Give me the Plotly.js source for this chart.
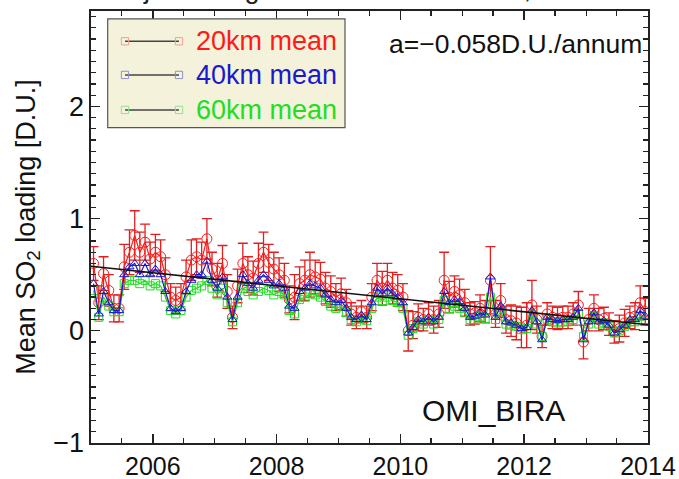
<!DOCTYPE html>
<html>
<head>
<meta charset="utf-8">
<script src="https://cdn.plot.ly/plotly-3.0.1.min.js"></script>
<style>html,body{margin:0;padding:0;background:#fff}#chart{width:679px;height:479px}</style>
</head>
<body>
<div id="chart"></div>
<script>
// ---- data (monthly means, Jan 2005 .. Dec 2013) ----
var startYear = 2005;
var nYears = 9;
var mean20 = [
  0.60,0.25,0.51,0.36,0.20,0.20,0.57,0.70,0.85,0.70,0.79,0.64,
  0.70,0.66,0.50,0.30,0.27,0.30,0.48,0.63,0.66,0.63,0.82,0.55,
  0.45,0.60,0.35,0.12,0.40,0.60,0.50,0.47,0.60,0.70,0.61,0.55,
  0.50,0.45,0.28,0.30,0.42,0.45,0.50,0.48,0.46,0.38,0.35,0.30,
  0.33,0.25,0.15,0.12,0.17,0.12,0.30,0.45,0.38,0.45,0.38,0.36,
  0.30,0.00,0.05,0.12,0.10,0.15,0.10,0.15,0.45,0.30,0.35,0.32,
  0.25,0.15,0.16,0.20,0.17,0.45,0.15,0.27,0.10,0.09,0.07,0.03,
  0.05,0.23,0.10,-0.05,0.15,0.12,0.11,0.12,0.12,0.15,0.23,-0.10,
  0.10,0.20,0.10,0.11,0.06,-0.01,0.02,0.07,0.12,0.13,0.25,0.17
];
var err20 = [
  0.15,0.15,0.15,0.14,0.12,0.12,0.20,0.20,0.22,0.18,0.16,0.15,
  0.16,0.15,0.15,0.12,0.12,0.12,0.15,0.18,0.16,0.16,0.18,0.15,
  0.15,0.16,0.15,0.10,0.15,0.18,0.16,0.15,0.18,0.18,0.16,0.15,
  0.15,0.15,0.12,0.20,0.15,0.18,0.20,0.15,0.15,0.14,0.14,0.12,
  0.14,0.12,0.10,0.10,0.10,0.10,0.12,0.15,0.15,0.15,0.14,0.14,
  0.12,0.18,0.12,0.12,0.10,0.10,0.12,0.12,0.25,0.14,0.14,0.14,
  0.12,0.10,0.10,0.12,0.10,0.30,0.12,0.15,0.12,0.14,0.15,0.18,
  0.20,0.22,0.12,0.10,0.10,0.10,0.10,0.10,0.10,0.10,0.12,0.15,
  0.10,0.12,0.10,0.10,0.10,0.10,0.12,0.12,0.10,0.12,0.15,0.12
];
var mean40 = [
  0.42,0.15,0.35,0.25,0.18,0.18,0.50,0.57,0.60,0.50,0.60,0.50,
  0.55,0.50,0.35,0.20,0.17,0.20,0.35,0.45,0.50,0.50,0.62,0.45,
  0.38,0.48,0.30,0.10,0.30,0.50,0.42,0.38,0.45,0.50,0.45,0.40,
  0.42,0.38,0.22,0.20,0.35,0.38,0.42,0.40,0.38,0.32,0.28,0.25,
  0.27,0.20,0.12,0.10,0.14,0.10,0.25,0.38,0.33,0.38,0.33,0.30,
  0.25,-0.02,0.03,0.10,0.08,0.12,0.08,0.12,0.35,0.25,0.28,0.26,
  0.20,0.12,0.13,0.16,0.14,0.48,0.12,0.22,0.08,0.07,0.05,0.02,
  0.03,0.18,0.08,-0.08,0.12,0.10,0.09,0.10,0.10,0.12,0.20,-0.08,
  0.08,0.16,0.08,0.09,0.05,-0.02,0.01,0.05,0.10,0.10,0.18,0.13
];
var mean60 = [
  0.36,0.12,0.30,0.22,0.17,0.17,0.42,0.45,0.45,0.42,0.45,0.40,
  0.42,0.40,0.30,0.18,0.15,0.18,0.30,0.36,0.38,0.40,0.45,0.38,
  0.32,0.38,0.25,0.08,0.25,0.38,0.35,0.32,0.35,0.38,0.36,0.32,
  0.35,0.32,0.18,0.15,0.28,0.30,0.33,0.32,0.30,0.26,0.22,0.20,
  0.22,0.16,0.10,0.08,0.12,0.09,0.20,0.30,0.27,0.30,0.27,0.25,
  0.20,-0.04,0.02,0.08,0.06,0.10,0.06,0.10,0.27,0.20,0.22,0.20,
  0.16,0.10,0.10,0.13,0.11,0.30,0.10,0.17,0.06,0.05,0.04,0.01,
  0.02,0.14,0.06,-0.05,0.10,0.08,0.07,0.08,0.08,0.10,0.15,-0.05,
  0.06,0.13,0.06,0.07,0.04,-0.02,0.00,0.04,0.08,0.08,0.13,0.10
];
var trendStart = 0.575;      // fitted value at start of 2005
var trendSlope = -0.058;     // D.U. per annum
var seriesNames = ['20km mean','40km mean','60km mean'];
var seriesColors = ['#ff1a1a','#1a1acc','#22dd22'];
var legendSymColors = ['#f0a090','#9090c8','#90e090'];
var yTickVals = [-1,0,1,2];
var xTickYears = [2006,2008,2010,2012,2014];
var titleText = 'Shijiazhuang area within radius: 10,000 km2';

// ---- build ----
function pad(n){return (n<10?'0':'')+n;}
var dates = [];
for (var i=0;i<mean20.length;i++){
  var y = startYear + Math.floor(i/12), m = i%12 + 1;
  dates.push(y+'-'+pad(m)+'-16');
}
var endYear = startYear + nYears;
var FONT = 'Liberation Sans, Arial, Helvetica, sans-serif';

var t20 = {x:dates,y:mean20,type:'scatter',mode:'lines+markers',name:seriesNames[0],
  line:{color:seriesColors[0],width:1.2},
  marker:{symbol:'circle-open',size:10,color:seriesColors[0],line:{width:1}},
  error_y:{type:'data',array:err20,visible:true,color:'#e02020',thickness:1.3,width:5},
  showlegend:false, hoverinfo:'skip'};
var t60 = {x:dates,y:mean60,type:'scatter',mode:'lines+markers',name:seriesNames[2],
  line:{color:seriesColors[2],width:1.2},
  marker:{symbol:'square-open',size:8,color:seriesColors[2],line:{width:1}},
  showlegend:false, hoverinfo:'skip'};
var t40 = {x:dates,y:mean40,type:'scatter',mode:'lines+markers',name:seriesNames[1],
  line:{color:seriesColors[1],width:1.2},
  marker:{symbol:'triangle-up-open',size:8,color:seriesColors[1],line:{width:1}},
  showlegend:false, hoverinfo:'skip'};
var trend = {x:[startYear+'-01-01', endYear+'-01-01'],
  y:[trendStart, trendStart + trendSlope*nYears],
  type:'scatter',mode:'lines',line:{color:'#111',width:1.5},showlegend:false,hoverinfo:'skip'};

// legend (drawn in paper coordinates)
var shapes = [];
var annotations = [];
var lgX0 = 0.030, lgX1 = 0.456, lgY0 = 0.730, lgY1 = 0.982;
shapes.push({type:'rect',xref:'paper',yref:'paper',x0:lgX0,x1:lgX1,y0:lgY0,y1:lgY1,
  fillcolor:'#f5f2db',line:{color:'#555',width:1.2},layer:'above'});
var rowY = [0.930, 0.852, 0.771];
for (var k=0;k<3;k++){
  shapes.push({type:'line',xref:'paper',yref:'paper',x0:0.061,x1:0.158,y0:rowY[k],y1:rowY[k],
    line:{color:'#444',width:1.5},layer:'above'});
  [0.061,0.158].forEach(function(px){
    shapes.push({type:'rect',xref:'paper',yref:'paper',x0:px-0.0065,x1:px+0.0065,
      y0:rowY[k]-0.0085,y1:rowY[k]+0.0085,line:{color:legendSymColors[k],width:1},
      fillcolor:'rgba(0,0,0,0)',layer:'above'});
  });
  annotations.push({xref:'paper',yref:'paper',x:0.185,y:rowY[k],xanchor:'left',yanchor:'middle',
    text:seriesNames[k],showarrow:false,font:{family:FONT,size:27,color:seriesColors[k]}});
}
annotations.push({xref:'paper',yref:'paper',x:0.992,y:0.924,xanchor:'right',yanchor:'middle',
  text:'a='+'\u2212'+Math.abs(trendSlope).toFixed(3)+'D.U./annum',showarrow:false,
  font:{family:FONT,size:26.5,color:'#111'}});
annotations.push({xref:'paper',yref:'paper',x:0.7235,y:0.075,xanchor:'center',yanchor:'middle',
  text:'OMI_BIRA',showarrow:false,font:{family:FONT,size:30,color:'#111'}});
annotations.push({xref:'paper',yref:'paper',x:0.5,y:1.0,yshift:5,xanchor:'center',yanchor:'bottom',
  text:titleText,showarrow:false,font:{family:FONT,size:27,color:'#222'}});

var layout = {
  width:679,height:479,
  margin:{l:91,r:31,t:11,b:36},
  paper_bgcolor:'#fff',plot_bgcolor:'#fff',
  font:{family:FONT,size:27,color:'#111'},
  xaxis:{type:'date',range:[startYear+'-01-01',endYear+'-01-01'],
    tickmode:'array',tickvals:xTickYears.map(function(y){return y+'-01-01';}),
    ticktext:xTickYears.map(String),
    ticks:'inside',ticklen:9,tickwidth:1.3,tickcolor:'#222',
    minor:{dtick:'M6',tick0:startYear+'-01-01',ticks:'inside',ticklen:5,tickwidth:1.3,tickcolor:'#222',showgrid:false},
    showline:true,linecolor:'#222',linewidth:1.6,mirror:'allticks',
    showgrid:false,zeroline:false,tickfont:{family:FONT,size:25,color:'#111'}},
  yaxis:{range:[-1,2.85],tickmode:'array',tickvals:yTickVals,
    ticktext:yTickVals.map(function(v){return v<0?'\u2212'+Math.abs(v):String(v);}),
    ticks:'inside',ticklen:9,tickwidth:1.3,tickcolor:'#222',
    minor:{dtick:0.1,tick0:0,ticks:'inside',ticklen:5,tickwidth:1.3,tickcolor:'#222',showgrid:false},
    showline:true,linecolor:'#222',linewidth:1.6,mirror:'allticks',
    showgrid:false,zeroline:false,tickfont:{family:FONT,size:27,color:'#111'},
    title:{text:'Mean SO<sub>2</sub> loading [D.U.]',font:{family:FONT,size:27,color:'#111'},standoff:10}},
  shapes:shapes,
  annotations:annotations,
  showlegend:false
};
Plotly.newPlot('chart',[t20,t60,t40,trend],layout,{staticPlot:true,displayModeBar:false});
</script>
</body>
</html>
